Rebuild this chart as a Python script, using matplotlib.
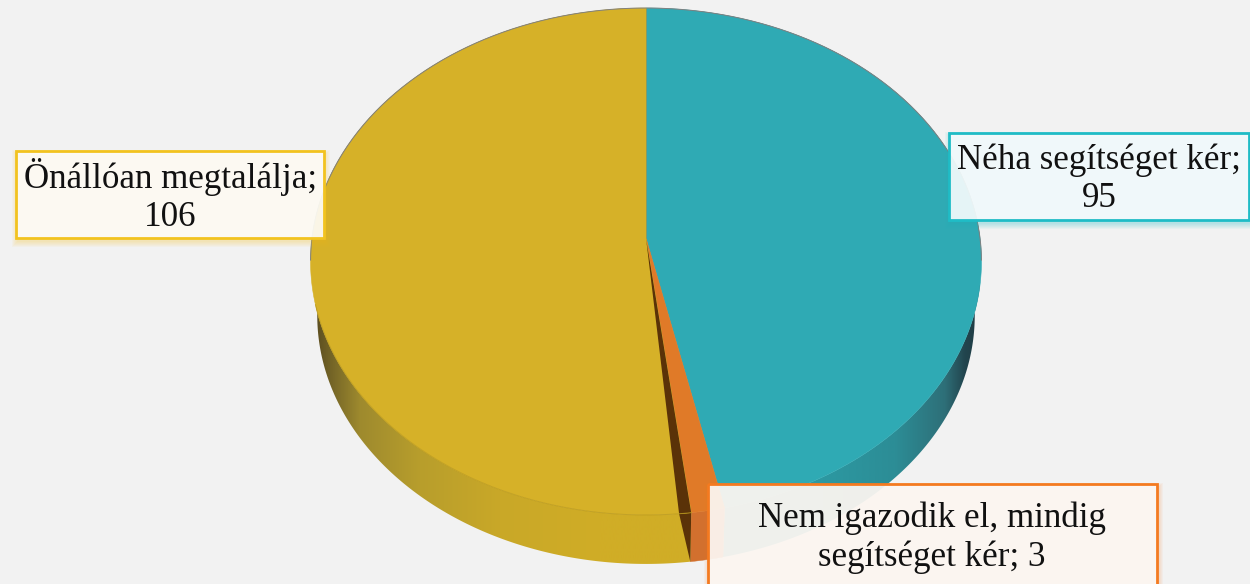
import numpy as np
import matplotlib
matplotlib.use('Agg')
import matplotlib.pyplot as plt
from matplotlib.patches import Polygon, Rectangle

#data, clockwise from the top
categories = ['Néha segítséget kér', 'Nem igazodik el, mindig segítséget kér', 'Önállóan megtalálja']
values = [95, 3, 106]
label_texts = ['Néha segítséget kér;\n{}', 'Nem igazodik el, mindig\nsegítséget kér; {}', 'Önállóan megtalálja;\n{}']

#pie look in pixels
cx, cy = 646.0, 238.0
rad_x, rad_y = 334.0, 251.3
persp = 0.0927
bottom_scale = 0.98
bottom_shift = 54.5

top_colors = ['#2faab4', '#e07a28', '#d6b128']
edge_colors = ['#1fbcc6', '#f47a20', '#f2c31f']
box_colors = ['#f6fbfc', '#fcf9f6', '#fdfcf8']
#x, y, w, h of the boxes and text centres
boxes = [(949, 133, 300, 87), (708, 484, 449, 110), (16, 151, 308, 87)]
text_pos = [(1099, 179), (932, 538), (170, 196)]

#side shading along x in pixels
yellow_x = [316, 335, 360, 420, 500, 600, 700]
yellow_stops = ['#5c4e20', '#7a6a28', '#9e8a2e', '#b89e2c', '#c9a828', '#d0ad26', '#d0ad26']
teal_x = [690, 810, 895, 945, 965, 980]
teal_stops = ['#2c9aa3', '#2c9aa3', '#2c8d96', '#2e6f78', '#22454e', '#1f3a42']


def rim(t, scale=1.0, shift=0.0):
    #perspective projection of a point on the disc, t is clockwise from the top
    u = np.sin(t)
    v = np.cos(t)
    w = 1 + persp * v
    return cx + scale * rad_x * u / w, cy + shift - scale * rad_y * v / w


def side_outline(a, b):
    ts = np.linspace(a, b, 400)
    x1, y1 = rim(ts)
    x2, y2 = rim(ts[::-1], bottom_scale, bottom_shift)
    return list(zip(np.r_[x1, x2], np.r_[y1, y2]))


def gradient_side(a, b, xp, stops):
    #side wall as a left to right colour ramp clipped to the wall shape
    poly = Polygon(side_outline(a, b), closed=True, fc='none', ec='none', zorder=2)
    ax.add_patch(poly)
    rgb = np.array([matplotlib.colors.to_rgb(c) for c in stops])
    xx = np.linspace(min(xp), max(xp), 800)
    ramp = np.stack([np.interp(xx, xp, rgb[:, i]) for i in range(3)], axis=1)[np.newaxis, :, :]
    im = ax.imshow(ramp, extent=[min(xp), max(xp), 584, 0], aspect='auto', zorder=2, interpolation='bilinear')
    im.set_clip_path(poly)


fig = plt.figure(figsize=(12.5, 5.84), dpi=100, facecolor='#f2f2f2')
ax = fig.add_axes([0, 0, 1, 1])

total = sum(values)
angles = np.cumsum([0] + values) / total * 2 * np.pi

#side walls first
gradient_side(angles[0], angles[1], teal_x, teal_stops)
ax.add_patch(Polygon(side_outline(angles[1], angles[2]), closed=True, fc='#d2702e', ec='#d2702e', lw=0.3, zorder=2))
gradient_side(angles[2], angles[3], yellow_x, yellow_stops)

#dark wall between the orange and yellow slices
wall_t = angles[2]
wall_left = wall_t + np.radians(1.9)
xa, ya = rim(wall_t)
xb, yb = rim(wall_left)
xc, yc = rim(wall_t, bottom_scale, bottom_shift)
ax.add_patch(Polygon([(xa, ya), (xb, yb), (xc, yc)], closed=True, fc='#5a3208', ec='none', zorder=3))

#top faces
for i in range(3):
    ts = np.linspace(angles[i], angles[i + 1], 400)
    xs, ys = rim(ts)
    pts = [(cx, cy)] + list(zip(xs, ys))
    ax.add_patch(Polygon(pts, closed=True, fc=top_colors[i], ec=top_colors[i], lw=0.4, zorder=4))

xs, ys = rim(np.linspace(wall_t, wall_left, 10))
ax.add_patch(Polygon([(cx, cy)] + list(zip(xs, ys)), closed=True, fc='#5a3208', ec='none', zorder=5))

#darker line on the front rim, grey line round the back
ts = np.linspace(angles[2], np.radians(255), 300)
xs, ys = rim(ts)
ax.plot(xs, ys, color='#b8981c', lw=0.7, alpha=0.7, zorder=6)
ts = np.linspace(np.radians(-95), np.radians(95), 300)
xs, ys = rim(ts)
ax.plot(xs, ys, color='#808080', lw=0.7, zorder=6)
ax.plot([cx, cx], [rim(0.0)[1], cy], color='#8a9a60', lw=0.6, zorder=6)

#label boxes with soft shadow
for i in range(3):
    x, y, w, h = boxes[i]
    for k in range(6):
        grow = 7 - k
        ax.add_patch(Rectangle((x - grow + 3, y - grow + 6), w + 2 * grow - 4, h + 2 * grow - 4,
                               fc=edge_colors[i], ec='none', alpha=0.05, zorder=7))
    ax.add_patch(Rectangle((x, y), w, h, fc=box_colors[i], ec='none', alpha=0.92, zorder=8))
    ax.add_patch(Rectangle((x, y), w, h, fc='none', ec=edge_colors[i], lw=2.0, zorder=9))
    ax.text(text_pos[i][0], text_pos[i][1], label_texts[i].format(values[i]),
            family=['Liberation Serif', 'DejaVu Serif'], fontsize=25.2, color='#111111',
            ha='center', va='center', linespacing=1.2, zorder=10)

ax.set_xlim(0, 1250)
ax.set_ylim(584, 0)
ax.axis('off')

fig.savefig('out.png', dpi=100, facecolor=fig.get_facecolor())
